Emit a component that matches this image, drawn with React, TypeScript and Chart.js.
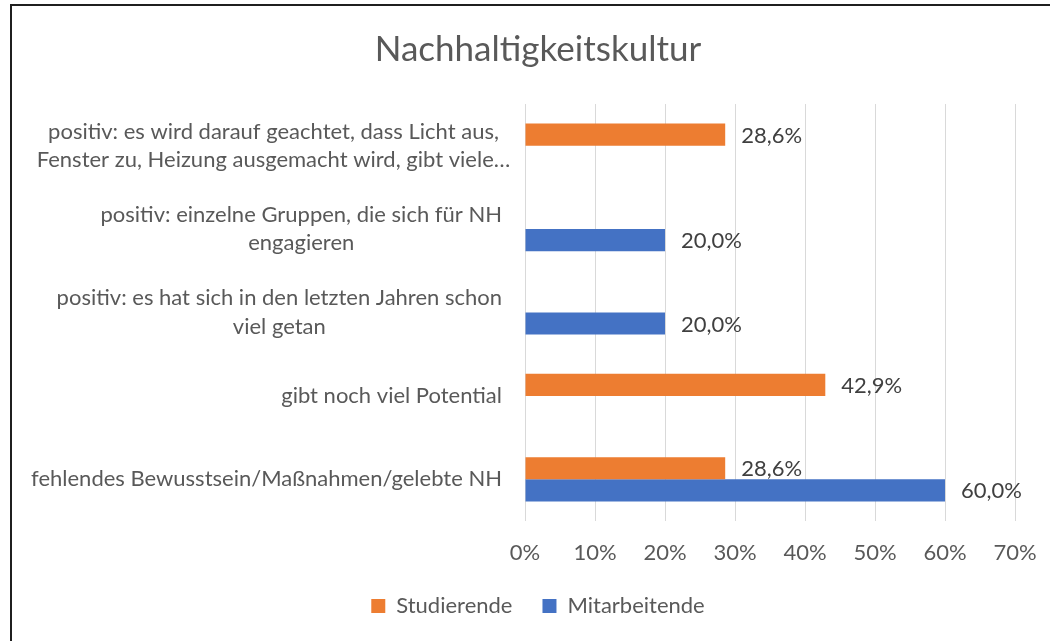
import React, { useEffect, useRef } from "react";
import { Chart, registerables } from "chart.js";

Chart.register(...registerables);

// ---- data ----
const categories: string[][] = [
  ["positiv: es wird darauf geachtet, dass Licht aus,", "Fenster zu, Heizung ausgemacht wird, gibt viele…"],
  ["positiv: einzelne Gruppen, die sich für NH", "engagieren"],
  ["positiv: es hat sich in den letzten Jahren schon", "viel getan"],
  ["gibt noch viel Potential"],
  ["fehlendes Bewusstsein/Maßnahmen/gelebte NH"],
];
const studierende: (number | null)[] = [28.6, null, null, 42.9, 28.6];
const mitarbeitende: (number | null)[] = [null, 20.0, 20.0, null, 60.0];
const seriesNames = ["Studierende", "Mitarbeitende"];
const xMin = 0;
const xMax = 70;
const xStep = 10;
const titleText = "Nachhaltigkeitskultur";

// ---- style ----
const FONT = "Lato";
const TEXT = "#595959";
const LABEL_TEXT = "#404040";
const ORANGE = "#ED7D31";
const BLUE = "#4472C4";
const GRID = "#D9D9D9";
const CAT_SIZE = 22;
const CAT_LH = 28.5;
const TITLE_SIZE = 35;

const fmt = (v: number) => v.toFixed(1).replace(".", ",") + "%";

const categoryLabelPlugin = {
  id: "categoryLabels",
  afterDraw(chart: any) {
    const ctx = chart.ctx;
    const yScale = chart.scales.y;
    const right = chart.chartArea.left - 23;
    ctx.save();
    ctx.font = `${CAT_SIZE}px ${FONT}`;
    ctx.fillStyle = TEXT;
    ctx.textAlign = "center";
    ctx.textBaseline = "middle";
    categories.forEach((lines, i) => {
      const cy = yScale.getPixelForTick(i);
      const widths = lines.map((l) => ctx.measureText(l.replace(/…$/, "")).width);
      const bw = Math.max(...widths);
      const cx = right - bw / 2;
      const n = lines.length;
      lines.forEach((l, j) => {
        ctx.fillText(l, cx, cy + (j - (n - 1) / 2) * CAT_LH);
      });
    });
    ctx.restore();
  },
};

const dataLabelPlugin = {
  id: "dataLabels",
  afterDatasetsDraw(chart: any) {
    const ctx = chart.ctx;
    ctx.save();
    ctx.font = `${CAT_SIZE}px ${FONT}`;
    ctx.fillStyle = LABEL_TEXT;
    ctx.textAlign = "left";
    ctx.textBaseline = "middle";
    chart.data.datasets.forEach((ds: any, di: number) => {
      const meta = chart.getDatasetMeta(di);
      meta.data.forEach((bar: any, j: number) => {
        const v = ds.data[j];
        if (v === null || v === undefined) return;
        ctx.fillText(fmt(v), bar.x + 16, bar.y + 1);
      });
    });
    ctx.restore();
  },
};

export default function App() {
  const canvasRef = useRef<HTMLCanvasElement | null>(null);

  useEffect(() => {
    let chart: Chart | null = null;
    let cancelled = false;
    const make = () => {
      if (cancelled || !canvasRef.current) return;
      chart = new Chart(canvasRef.current, {
        type: "bar",
        data: {
          labels: categories,
          datasets: [
            {
              label: seriesNames[0],
              data: studierende,
              backgroundColor: ORANGE,
              borderWidth: 0,
              categoryPercentage: 0.53,
              barPercentage: 1.0,
            },
            {
              label: seriesNames[1],
              data: mitarbeitende,
              backgroundColor: BLUE,
              borderWidth: 0,
              categoryPercentage: 0.53,
              barPercentage: 1.0,
            },
          ],
        },
        options: {
          indexAxis: "y",
          responsive: false,
          animation: false,
          layout: { padding: { left: 61, right: 35, top: 0, bottom: 14 } },
          scales: {
            x: {
              min: xMin,
              max: xMax,
              border: { display: false },
              grid: { color: GRID, lineWidth: 1, drawTicks: false },
              ticks: {
                stepSize: xStep,
                padding: 19,
                color: TEXT,
                font: { family: FONT, size: CAT_SIZE },
                callback: (v: any) => `${v}%`,
              },
              afterFit: (s: any) => {
                s.height = 44;
                s.paddingLeft = 0;
                s.paddingRight = 0;
              },
            },
            y: {
              type: "category",
              border: { display: false },
              grid: { display: false },
              ticks: { display: false },
              afterFit: (s: any) => {
                s.width = 464;
              },
            },
          },
          plugins: {
            title: {
              display: true,
              text: titleText,
              color: TEXT,
              font: { family: FONT, size: TITLE_SIZE, weight: "normal" },
              padding: { top: 29, bottom: 33 },
            },
            legend: {
              position: "bottom",
              labels: {
                boxWidth: 14,
                boxHeight: 14,
                padding: 30,
                color: TEXT,
                font: { family: FONT, size: CAT_SIZE },
              },
            },
            tooltip: { enabled: false },
          },
        },
        plugins: [categoryLabelPlugin, dataLabelPlugin],
      } as any);
    };
    const fontsReady = (document as any).fonts
      ? Promise.all([
          (document as any).fonts.load(`${CAT_SIZE}px ${FONT}`),
          (document as any).fonts.load(`${TITLE_SIZE}px ${FONT}`),
        ]).catch(() => null)
      : Promise.resolve(null);
    fontsReady.then(make);
    return () => {
      cancelled = true;
      if (chart) chart.destroy();
    };
  }, []);

  return (
    <div
      style={{
        position: "fixed",
        left: 0,
        top: 0,
        width: 1050,
        height: 641,
        overflow: "hidden",
        background: "#ffffff",
      }}
    >
      <div
        style={{
          position: "absolute",
          left: 10,
          top: 4,
          width: 1200,
          height: 800,
          borderLeft: "2px solid #1f1f1f",
          borderTop: "2px solid #1f1f1f",
        }}
      />
      <canvas
        ref={canvasRef}
        width={1050}
        height={641}
        style={{ position: "absolute", left: 0, top: 0, width: 1050, height: 641 }}
      />
    </div>
  );
}
